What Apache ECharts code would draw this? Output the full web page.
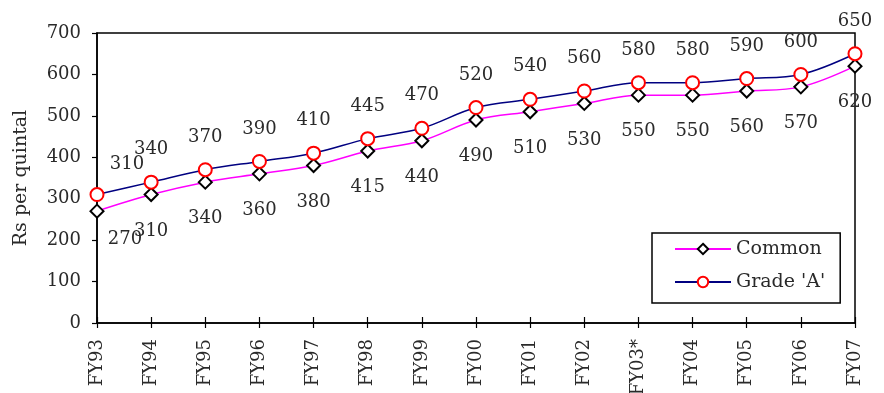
<!DOCTYPE html>
<html>
<head>
<meta charset="utf-8">
<script src="https://cdn.jsdelivr.net/npm/echarts@6/dist/echarts.min.js"></script>
<style>
  html, body { margin: 0; padding: 0; background: #fff; }
  #chart { width: 884px; height: 393px; }
</style>
</head>
<body>
<div id="chart"></div>
<script>
// Wheat procurement prices, Rs per quintal
const categories = ['FY93', 'FY94', 'FY95', 'FY96', 'FY97', 'FY98', 'FY99', 'FY00',
  'FY01', 'FY02', 'FY03*', 'FY04', 'FY05', 'FY06', 'FY07'];
const commonPrices = [270, 310, 340, 360, 380, 415, 440, 490, 510, 530, 550, 550, 560, 570, 620];
const gradeAPrices = [310, 340, 370, 390, 410, 445, 470, 520, 540, 560, 580, 580, 590, 600, 650];
const yTicks = [0, 100, 200, 300, 400, 500, 600, 700];

const FONT = 'DejaVu Serif';
const TEXT = '#2a2a2a';

// first point's label sits to the right of the axis line
function withLabels(values, firstOffset) {
  return values.map((v, i) => i === 0 ? { value: v, label: { offset: firstOffset } } : v);
}

const chart = echarts.init(document.getElementById('chart'));
chart.setOption({
  animation: false,
  backgroundColor: '#fff',
  grid: {
    left: 97, right: 29, top: 33, bottom: 70,
    outerBoundsMode: 'none', containLabel: false,
    show: true, borderColor: '#000', borderWidth: 1.5, backgroundColor: 'transparent'
  },
  legend: {
    left: 652, top: 233, orient: 'vertical',
    borderColor: '#000', borderWidth: 1.5,
    padding: [4, 15, 9, 22], itemGap: 9,
    itemWidth: 56, itemHeight: 13,
    textStyle: { fontFamily: FONT, fontSize: 19, lineHeight: 24, color: TEXT },
    data: ['Common', "Grade 'A'"]
  },
  xAxis: [{
    type: 'category', data: categories, boundaryGap: false,
    axisLine: { lineStyle: { color: '#000', width: 1.5 } },
    axisTick: { show: true, length: 5, lineStyle: { color: '#000', width: 1.2 } },
    axisLabel: { rotate: 90, fontFamily: FONT, fontSize: 18, color: TEXT, margin: 16 }
  }, {
    type: 'category', data: categories, boundaryGap: false, position: 'bottom',
    axisLine: { show: false },
    axisTick: { show: true, inside: true, length: 6, lineStyle: { color: '#000', width: 1.2 } },
    axisLabel: { show: false }
  }],
  yAxis: {
    type: 'value', min: yTicks[0], max: yTicks[yTicks.length - 1], interval: 100,
    name: 'Rs per quintal', nameLocation: 'middle', nameGap: 66,
    nameTextStyle: { fontFamily: FONT, fontSize: 19, color: TEXT },
    axisLine: { show: true, lineStyle: { color: '#000', width: 1.5 } },
    axisTick: { show: true, length: 5, lineStyle: { color: '#000', width: 1.2 } },
    axisLabel: { fontFamily: FONT, fontSize: 18, color: TEXT, margin: 16 },
    splitLine: { show: false }
  },
  series: [{
    name: 'Common', type: 'line', smooth: 0.35,
    data: withLabels(commonPrices, [28, -8]),
    lineStyle: { color: '#FF00FF', width: 1.5 },
    itemStyle: { color: '#fff', borderColor: '#000', borderWidth: 2 },
    symbol: 'diamond', symbolSize: 13,
    label: { show: true, position: 'bottom', distance: 20, fontFamily: FONT, fontSize: 18, color: TEXT }
  }, {
    name: "Grade 'A'", type: 'line', smooth: 0.35,
    data: withLabels(gradeAPrices, [30, 2]),
    lineStyle: { color: '#000080', width: 1.5 },
    itemStyle: { color: '#fff', borderColor: '#FF0000', borderWidth: 2 },
    symbol: 'circle', symbolSize: 13,
    label: { show: true, position: 'top', distance: 16, fontFamily: FONT, fontSize: 18, color: TEXT }
  }]
});
</script>
</body>
</html>
